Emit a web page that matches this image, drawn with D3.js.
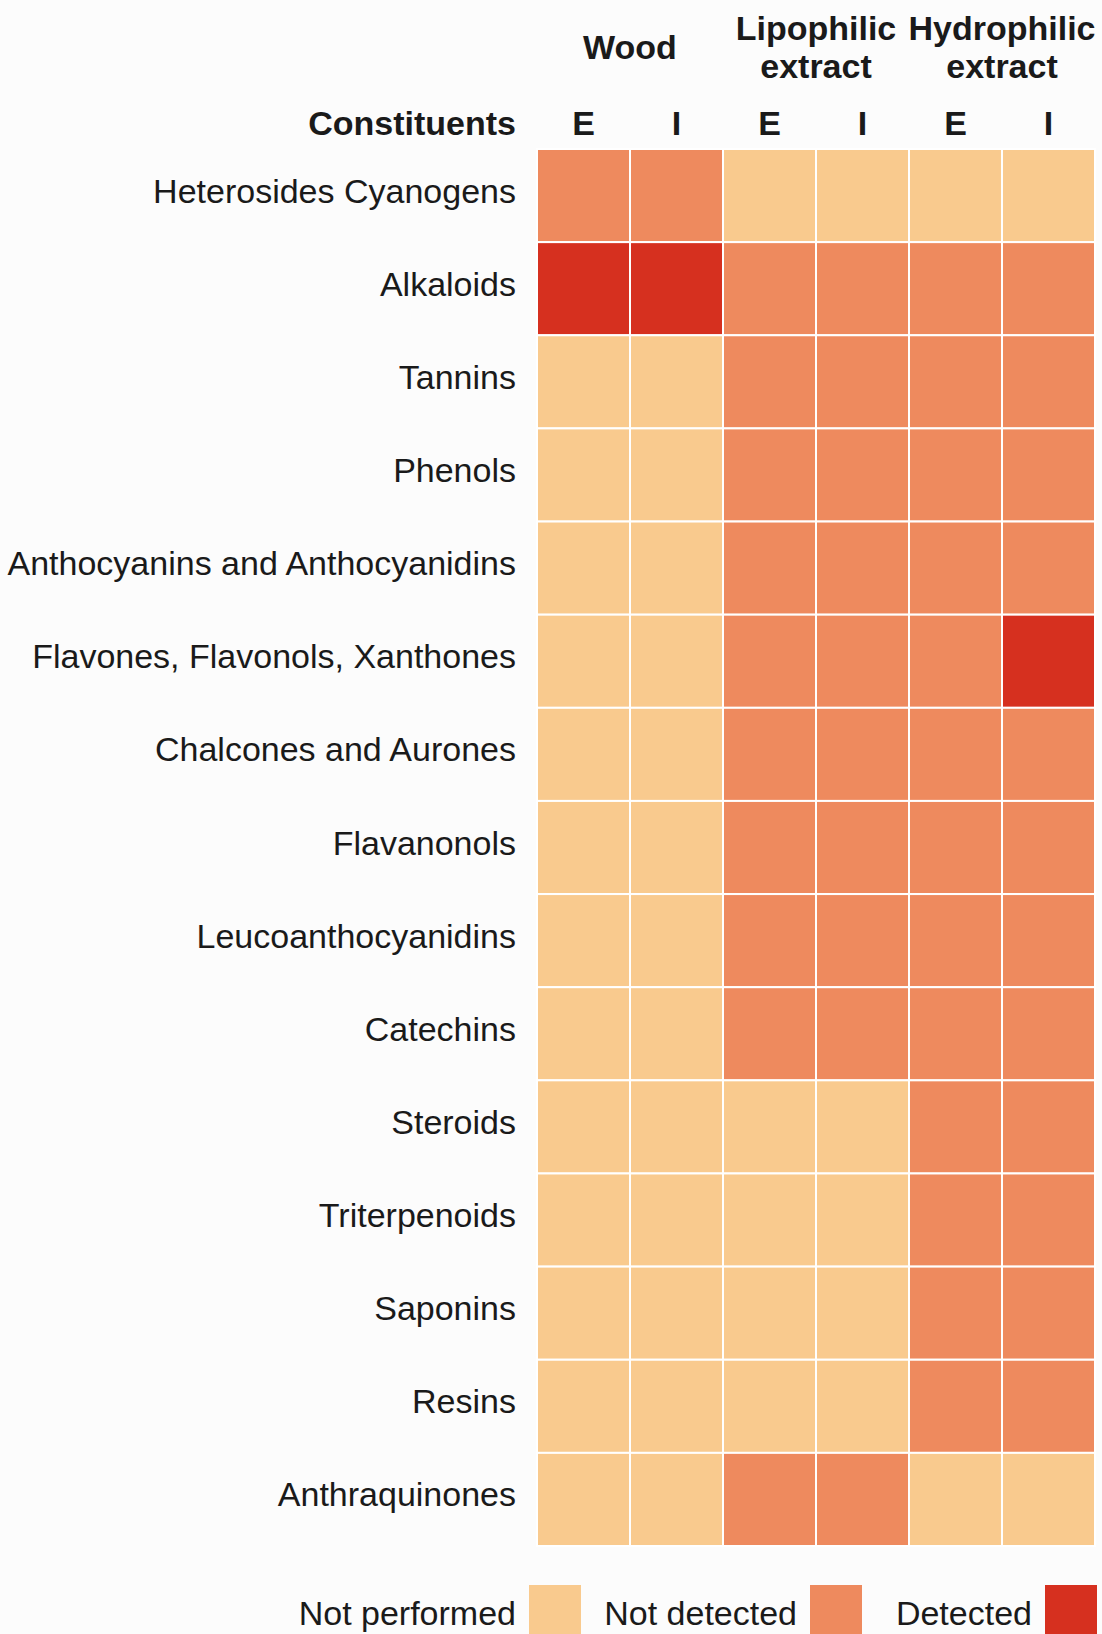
<!DOCTYPE html>
<html>
<head>
<meta charset="utf-8">
<script src="https://cdn.jsdelivr.net/npm/d3@7"></script>
<style>
  html, body { margin: 0; padding: 0; background: #fcfcfc; }
  svg { display: block; }
  text { font-family: "Liberation Sans", Arial, Helvetica, sans-serif; fill: #1a1a1a; }
</style>
</head>
<body>
<div id="chart"></div>
<script>
// ---- Data ----
const constituents = [
  "Heterosides Cyanogens", "Alkaloids", "Tannins", "Phenols",
  "Anthocyanins and Anthocyanidins", "Flavones, Flavonols, Xanthones",
  "Chalcones and Aurones", "Flavanonols", "Leucoanthocyanidins", "Catechins",
  "Steroids", "Triterpenoids", "Saponins", "Resins", "Anthraquinones"
];
const groups = ["Wood", "Lipophilic extract", "Hydrophilic extract"];
const subColumns = ["E", "I"];
const statusLabels = ["Not performed", "Not detected", "Detected"];
// 0 = Not performed, 1 = Not detected, 2 = Detected
// columns: Wood E, Wood I, Lipo E, Lipo I, Hydro E, Hydro I
const woodE  = [1, 2, 0, 0, 0, 0, 0, 0, 0, 0, 0, 0, 0, 0, 0];
const woodI  = [1, 2, 0, 0, 0, 0, 0, 0, 0, 0, 0, 0, 0, 0, 0];
const lipoE  = [0, 1, 1, 1, 1, 1, 1, 1, 1, 1, 0, 0, 0, 0, 1];
const lipoI  = [0, 1, 1, 1, 1, 1, 1, 1, 1, 1, 0, 0, 0, 0, 1];
const hydroE = [0, 1, 1, 1, 1, 1, 1, 1, 1, 1, 1, 1, 1, 1, 0];
const hydroI = [0, 1, 1, 1, 1, 2, 1, 1, 1, 1, 1, 1, 1, 1, 0];
const statusColors = ["#f9ca8e", "#ee8a5e", "#d6301f"];

const columnKeys = ["Wood E", "Wood I", "Lipophilic E", "Lipophilic I", "Hydrophilic E", "Hydrophilic I"];
const columnValues = [woodE, woodI, lipoE, lipoI, hydroE, hydroI];

// ---- Layout ----
const W = 1102, H = 1634;
const gridLeft = 537, gridRight = 1095, gridTop = 149, gridBottom = 1546;
const fontSize = 34;

const svg = d3.select("#chart").append("svg").attr("width", W).attr("height", H);
svg.append("rect").attr("width", W).attr("height", H).attr("fill", "#fcfcfc");

const x = d3.scaleBand().domain(columnKeys).range([gridLeft, gridRight]).padding(0);
const y = d3.scaleBand().domain(constituents).range([gridTop, gridBottom]).padding(0);
const color = d3.scaleOrdinal().domain([0, 1, 2]).range(statusColors);

const cells = [];
columnKeys.forEach((k, ci) => {
  constituents.forEach((c, ri) => cells.push({ col: k, row: c, v: columnValues[ci][ri] }));
});

svg.append("g").selectAll("rect").data(cells).join("rect")
  .attr("x", d => x(d.col))
  .attr("y", d => y(d.row))
  .attr("width", x.bandwidth())
  .attr("height", y.bandwidth())
  .attr("fill", d => color(d.v))
  .attr("stroke", "#ffffff")
  .attr("stroke-width", 2);

// Row labels
svg.append("g").selectAll("text").data(constituents).join("text")
  .attr("x", gridLeft - 21)
  .attr("y", d => y(d) + y.bandwidth() / 2 + 7)
  .attr("text-anchor", "end")
  .attr("font-size", fontSize)
  .text(d => d);

// Column sub headers (E / I)
svg.append("g").selectAll("text").data(columnKeys).join("text")
  .attr("x", d => x(d) + x.bandwidth() / 2)
  .attr("y", 135)
  .attr("text-anchor", "middle")
  .attr("font-size", fontSize)
  .attr("font-weight", "bold")
  .text((d, i) => subColumns[i % 2]);

svg.append("text")
  .attr("x", gridLeft - 21)
  .attr("y", 135)
  .attr("text-anchor", "end")
  .attr("font-size", fontSize)
  .attr("font-weight", "bold")
  .text("Constituents");

// Group headers
const gHead = svg.append("g");
groups.forEach((g, gi) => {
  const cx = x(columnKeys[gi * 2]) + x.bandwidth();
  const words = g.split(" ");
  const t = gHead.append("text")
    .attr("text-anchor", "middle")
    .attr("font-size", fontSize)
    .attr("font-weight", "bold");
  if (words.length === 1) {
    t.append("tspan").attr("x", cx).attr("y", 59).text(words[0]);
  } else {
    t.append("tspan").attr("x", cx).attr("y", 40).text(words[0]);
    t.append("tspan").attr("x", cx).attr("y", 78).text(words.slice(1).join(" "));
  }
});

// Legend
const legendSwatchX = [529, 810, 1045];
const legend = svg.append("g");
statusLabels.forEach((lab, i) => {
  legend.append("rect")
    .attr("x", legendSwatchX[i])
    .attr("y", 1585)
    .attr("width", 52)
    .attr("height", 52)
    .attr("fill", color(i));
  legend.append("text")
    .attr("x", legendSwatchX[i] - 13)
    .attr("y", 1625)
    .attr("text-anchor", "end")
    .attr("font-size", fontSize)
    .text(lab);
});
</script>
</body>
</html>
